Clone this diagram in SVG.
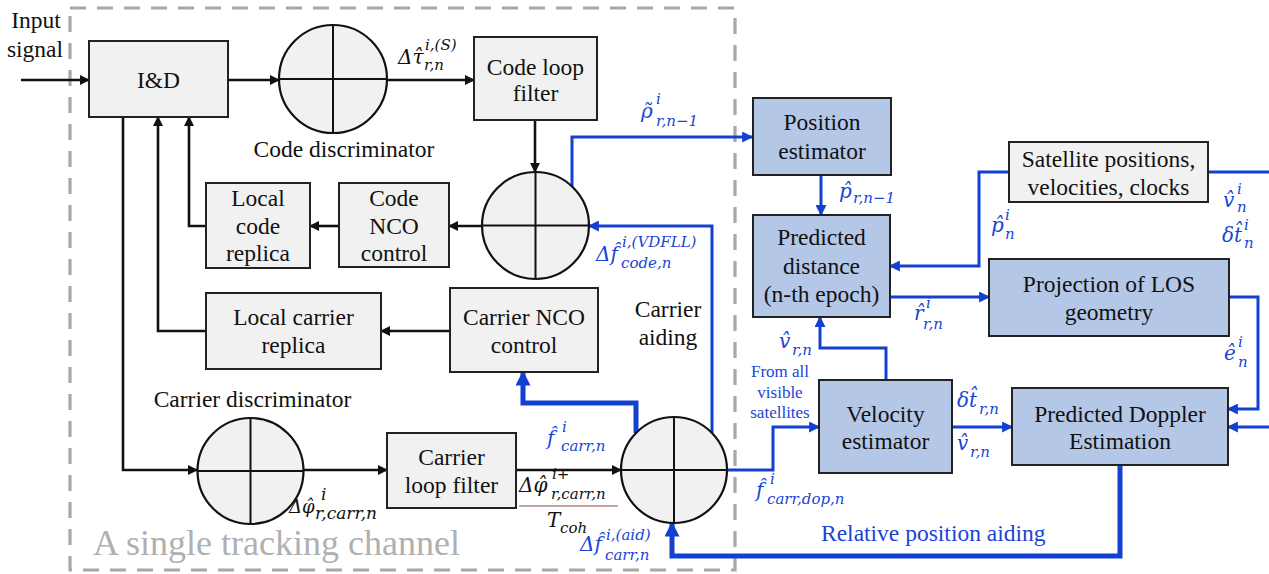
<svg xmlns="http://www.w3.org/2000/svg" width="1269" height="574" viewBox="0 0 1269 574">
<style>
  .t{font-family:'Liberation Serif','Times New Roman',serif;font-size:23.5px;fill:#111;text-anchor:middle}
  .g{fill:#f1f1f1;stroke:#222;stroke-width:2}
  .b{fill:#b4c7e7;stroke:#222;stroke-width:2}
  .c{fill:#f1f1f1;stroke:#111;stroke-width:2.2}
  .x{stroke:#111;stroke-width:2;fill:none}
  .k{stroke:#111;stroke-width:2.6;fill:none}
  .u{stroke:#1440d2;stroke-width:3;fill:none}
  .U{stroke:#1440d2;stroke-width:5;fill:none}
  .m{font-family:'DejaVu Serif',serif;font-style:italic;font-size:20px;fill:#111}
  .s{font-size:15px}
  .bl{fill:#1a44d6}
  .sm{font-family:'Liberation Serif','Times New Roman',serif;font-size:17px;fill:#1a44d6;text-anchor:middle}
</style>
<defs>
  <marker id="ab" viewBox="0 0 10 10" refX="9" refY="5" markerWidth="11" markerHeight="10" orient="auto" markerUnits="userSpaceOnUse"><path d="M0,0 L10,5 L0,10 z" fill="#111"/></marker>
  <marker id="au" viewBox="0 0 10 10" refX="9" refY="5" markerWidth="12" markerHeight="11" orient="auto" markerUnits="userSpaceOnUse"><path d="M0,0 L10,5 L0,10 z" fill="#1440d2"/></marker>
  <marker id="aU" viewBox="0 0 10 10" refX="9" refY="5" markerWidth="16" markerHeight="15" orient="auto" markerUnits="userSpaceOnUse"><path d="M0,0 L10,5 L0,10 z" fill="#1440d2"/></marker>
</defs>

<rect x="70" y="8" width="665" height="562" fill="none" stroke="#a8a8a8" stroke-width="3.2" stroke-dasharray="16 11"/>
<text x="93" y="555" style="font-family:'Liberation Serif',serif;font-size:36px;fill:#b0b0b0">A single tracking channel</text>

<g id="connectors">
  <path class="k" d="M21,80 H89" marker-end="url(#ab)"/>
  <path class="k" d="M228,80 H279" marker-end="url(#ab)"/>
  <path class="k" d="M387,80 H474" marker-end="url(#ab)"/>
  <path class="k" d="M535,120 V172" marker-end="url(#ab)"/>
  <path class="k" d="M482,226 H449" marker-end="url(#ab)"/>
  <path class="k" d="M339,226 H310" marker-end="url(#ab)"/>
  <path class="k" d="M206,226 H189 V117" marker-end="url(#ab)"/>
  <path class="k" d="M206,331 H158 V117" marker-end="url(#ab)"/>
  <path class="k" d="M450,331 H381" marker-end="url(#ab)"/>
  <path class="k" d="M123,117 V470 H197" marker-end="url(#ab)"/>
  <path class="k" d="M304,470 H387" marker-end="url(#ab)"/>
  <path class="k" d="M516,470 H621" marker-end="url(#ab)"/>
  <path d="M519,506 H618" stroke="#8a4a4a" stroke-width="1.2"/>

  <path class="u" d="M572,187 V137 H752" marker-end="url(#au)"/>
  <path class="u" d="M712,433 V226 H589" marker-end="url(#au)"/>
  <path class="U" d="M636,433 V403 H523 V372" marker-end="url(#aU)"/>
  <path class="u" d="M727,470 H773 V427 H819" marker-end="url(#au)"/>
  <path class="u" d="M886,380 V348 H820 V317" marker-end="url(#au)"/>
  <path class="u" d="M821,175 V215" marker-end="url(#au)"/>
  <path class="u" d="M1009,172 H979 V266 H890" marker-end="url(#au)"/>
  <path class="u" d="M1208,172 H1269"/>
  <path class="u" d="M890,297 H989" marker-end="url(#au)"/>
  <path class="u" d="M1229,297 H1258 V409 H1228" marker-end="url(#au)"/>
  <path class="u" d="M1269,427 H1228" marker-end="url(#au)"/>
  <path class="u" d="M952,427 H1012" marker-end="url(#au)"/>
  <path class="U" d="M1120,465 V556 H672 V523" marker-end="url(#aU)"/>
</g>

<g id="input"><text class="t" x="36" y="28">Input</text><text class="t" x="35" y="57">signal</text></g>

<g id="id-box"><rect class="g" x="89" y="41" width="139" height="76"/><text class="t" x="158.5" y="88">I&amp;D</text></g>

<g id="code-disc">
  <circle class="c" cx="333" cy="79" r="54"/>
  <path class="x" d="M279,79 H387 M333,25 V133"/>
  <text class="t" x="344" y="157">Code discriminator</text>
</g>

<g id="code-loop-filter"><rect class="g" x="474" y="37" width="123" height="83"/><text class="t" x="535.5" y="75">Code loop</text><text class="t" x="535.5" y="101">filter</text></g>

<g id="code-combiner">
  <circle class="c" cx="535.5" cy="225.5" r="53.5"/>
  <path class="x" d="M482,225.5 H589 M535.5,172 V279"/>
</g>

<g id="local-code"><rect class="g" x="206" y="183" width="104" height="85"/><text class="t" x="258" y="206">Local</text><text class="t" x="258" y="234">code</text><text class="t" x="258" y="261">replica</text></g>

<g id="code-nco"><rect class="g" x="339" y="183" width="110" height="84"/><text class="t" x="394" y="206">Code</text><text class="t" x="394" y="234">NCO</text><text class="t" x="394" y="261">control</text></g>

<g id="local-carrier"><rect class="g" x="206" y="293" width="175" height="76"/><text class="t" x="293.5" y="325">Local carrier</text><text class="t" x="293.5" y="353">replica</text></g>

<g id="carrier-nco"><rect class="g" x="450" y="288" width="148" height="84"/><text class="t" x="524" y="325">Carrier NCO</text><text class="t" x="524" y="353">control</text></g>

<g id="carrier-disc">
  <circle class="c" cx="250.5" cy="471" r="53"/>
  <path class="x" d="M197.5,471 H303.5 M250.5,418 V524"/>
  <text class="t" x="252.5" y="407">Carrier discriminator</text>
</g>

<g id="carrier-loop-filter"><rect class="g" x="387" y="433" width="129" height="75"/><text class="t" x="451.5" y="465">Carrier</text><text class="t" x="451.5" y="493">loop filter</text></g>

<g id="carrier-combiner">
  <circle class="c" cx="674" cy="470" r="53"/>
  <path class="x" d="M621,470 H727 M674,417 V523"/>
</g>

<g id="carrier-aiding"><text class="t" x="668" y="317">Carrier</text><text class="t" x="668" y="345">aiding</text></g>

<g id="position-estimator"><rect class="b" x="753" y="98" width="138" height="77"/><text class="t" x="822" y="130">Position</text><text class="t" x="822" y="159">estimator</text></g>

<g id="predicted-distance"><rect class="b" x="753" y="215" width="137" height="102"/><text class="t" x="821.5" y="245">Predicted</text><text class="t" x="821.5" y="274">distance</text><text class="t" x="821.5" y="302">(n-th epoch)</text></g>

<g id="satellite"><rect class="g" x="1009" y="142" width="199" height="60"/><text class="t" x="1108.5" y="167">Satellite positions,</text><text class="t" x="1108.5" y="195">velocities, clocks</text></g>

<g id="projection"><rect class="b" x="989" y="259" width="240" height="77"/><text class="t" x="1109" y="292">Projection of LOS</text><text class="t" x="1109" y="320">geometry</text></g>

<g id="velocity-estimator"><rect class="b" x="819" y="380" width="133" height="93"/><text class="t" x="885.5" y="422">Velocity</text><text class="t" x="885.5" y="449">estimator</text></g>

<g id="doppler"><rect class="b" x="1012" y="388" width="216" height="77"/><text class="t" x="1120" y="422">Predicted Doppler</text><text class="t" x="1120" y="449">Estimation</text></g>

<g id="from-all"><text class="sm" x="780" y="377">From all</text><text class="sm" x="780" y="398">visible</text><text class="sm" x="780" y="418">satellites</text></g>

<text x="821" y="541" style="font-family:'Liberation Serif',serif;font-size:23.5px;fill:#1a44d6">Relative position aiding</text>

<g id="labels">
  <text class="m" x="398" y="64">Δτ̂<tspan class="s" x="425" y="50">i,(S)</tspan><tspan class="s" x="424" y="70">r,n</tspan></text>

  <text class="m bl" x="641" y="118">ρ̃<tspan class="s" x="656" y="104">i</tspan><tspan class="s" x="656" y="126">r,n−1</tspan></text>

  <text class="m bl" x="839" y="198">p̂<tspan class="s" x="853" y="203">r,n−1</tspan></text>

  <text class="m bl" x="991" y="232">p̂<tspan class="s" x="1005" y="220">i</tspan><tspan class="s" x="1005" y="239">n</tspan></text>

  <text class="m bl" x="1223" y="207">v̂<tspan class="s" x="1237" y="194">i</tspan><tspan class="s" x="1237" y="212">n</tspan><tspan x="1222" y="242">δt̂</tspan><tspan class="s" x="1244" y="230">i</tspan><tspan class="s" x="1244" y="248">n</tspan></text>

  <text class="m bl" x="914" y="320">r̂<tspan class="s" x="926" y="308">i</tspan><tspan class="s" x="923" y="329">r,n</tspan></text>

  <text class="m bl" x="1224" y="360">ê<tspan class="s" x="1238" y="347">i</tspan><tspan class="s" x="1238" y="367">n</tspan></text>

  <text class="m bl" x="779" y="348">v̂<tspan class="s" x="792" y="355">r,n</tspan></text>

  <text class="m bl" x="957" y="407">δt̂<tspan class="s" x="979" y="414">r,n</tspan></text>

  <text class="m bl" x="957" y="450">v̂<tspan class="s" x="970" y="457">r,n</tspan></text>

  <text class="m bl" x="756" y="497">f̂<tspan class="s" x="770" y="484">i</tspan><tspan class="s" x="767" y="504">carr,dop,n</tspan></text>

  <text class="m bl" x="596" y="261">Δf̂<tspan class="s" x="622" y="247">i,(VDFLL)</tspan><tspan class="s" x="621" y="268">code,n</tspan></text>

  <text class="m bl" x="547" y="445">f̂<tspan class="s" x="562" y="432">i</tspan><tspan class="s" x="561" y="451">carr,n</tspan></text>

  <text class="m" x="519" y="492">Δφ̂<tspan class="s" x="552" y="479">i+</tspan><tspan class="s" x="551" y="499">r,carr,n</tspan></text>
  <text class="m" x="547" y="527">T<tspan class="s" x="560" y="533">coh</tspan></text>

  <text class="m" x="289" y="513" style="font-size:18px">Δφ̂<tspan x="321" y="500" style="font-size:17px">i</tspan><tspan x="315" y="519" style="font-size:17px">r,carr,n</tspan></text>

  <text class="m bl" x="580" y="551">Δf̂<tspan class="s" x="606" y="540">i,(aid)</tspan><tspan class="s" x="605" y="560">carr,n</tspan></text>
</g>
</svg>
